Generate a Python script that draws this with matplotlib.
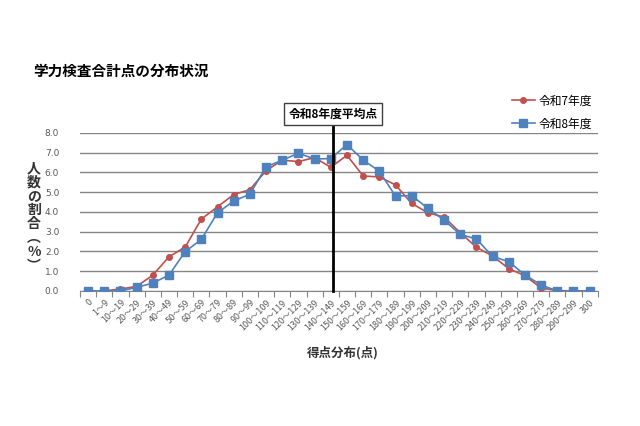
import numpy as np
import matplotlib
matplotlib.use('Agg')
import matplotlib.pyplot as plt

plt.rcParams['font.family'] = ['Noto Sans CJK JP', 'DejaVu Sans']

categories = ['0', '1～9'] + ['%d～%d' % (a, a + 9) for a in range(10, 300, 10)] + ['300']
r7 = [0.0, 0.0, 0.1, 0.23, 0.8, 1.73, 2.22, 3.64, 4.26, 4.88, 5.13, 6.09, 6.62, 6.55,
      6.75, 6.26, 6.87, 5.82, 5.77, 5.37, 4.43, 3.96, 3.74, 2.95, 2.21, 1.77, 1.13,
      0.77, 0.15, 0.02, 0.0, 0.0]
r8 = [0.0, 0.0, 0.0, 0.18, 0.4, 0.8, 1.99, 2.61, 3.96, 4.55, 4.9, 6.28, 6.62, 6.97,
      6.68, 6.7, 7.41, 6.63, 6.06, 4.8, 4.83, 4.18, 3.59, 2.86, 2.63, 1.75, 1.48,
      0.81, 0.3, 0.0, 0.0, 0.0]
mean_pos = 15.13  # 令和8年度平均点 (category position)

red = '#C0504D'
blue = '#4F81BD'
gray = '#595959'

fig = plt.figure(figsize=(6.4, 4.26), dpi=100)
ax = fig.add_axes([0.125, 0.317, 0.809, 0.371])
x = np.arange(len(categories))

ax.plot(x, r7, color=red, lw=1.2, marker='o', ms=4, label='令和7年度', zorder=3)
ax.plot(x, r8, color=blue, lw=1.2, marker='s', ms=5.5, label='令和8年度', zorder=4)

ax.set_xlim(-0.5, len(categories) - 0.5)
ax.set_ylim(0, 8)
ax.set_yticks(np.arange(0, 8.1, 1))
ax.set_yticklabels(['%.1f' % v for v in np.arange(0, 8.1, 1)], fontsize=6.5, color=gray,
                   family='DejaVu Sans')
ax.yaxis.grid(True, color='#868686', lw=1.0)
ax.set_axisbelow(True)
ax.tick_params(axis='y', length=0, pad=15)

ax.set_xticks(np.arange(-0.5, len(categories), 1), minor=False)
ax.set_xticklabels([])
ax.set_xticks(x, minor=True)
ax.set_xticklabels(categories, minor=True, rotation=45, ha='right', rotation_mode='anchor',
                   fontsize=6.5, color=gray)
ax.tick_params(axis='x', which='major', length=4, color='#868686', direction='out')
ax.tick_params(axis='x', which='minor', length=0, pad=5)

for s in ['top', 'right', 'left']:
    ax.spines[s].set_visible(False)
ax.spines['bottom'].set_color('#868686')

# average line and label box
ax.axvline(mean_pos, ymin=0, ymax=1.05, color='black', lw=2, clip_on=False, zorder=5)
ax.text(mean_pos, 8.96, '令和8年度平均点', ha='center', va='center', fontsize=8.5,
        fontweight='bold', zorder=6,
        bbox=dict(boxstyle='square,pad=0.35', fc='white', ec='#404040', lw=1.0))

leg = ax.legend(loc='upper right', bbox_to_anchor=(1.01, 1.31), frameon=False, fontsize=8.5,
                handlelength=2.0, labelspacing=0.85, handletextpad=0.3)

fig.text(0.052, 0.835, '学力検査合計点の分布状況', fontsize=10.5, fontweight='bold',
         va='center', ha='left')
fig.text(0.053, 0.49, '人\n数\nの\n割\n合\n︵\n%\n︶', fontsize=10, fontweight='bold',
         va='center', ha='center', linespacing=1.0, color='#333333')
fig.text(0.536, 0.173, '得点分布(点)', fontsize=9, fontweight='bold', ha='center',
         va='center', color='#333333')

fig.savefig('out.png', dpi=100)
